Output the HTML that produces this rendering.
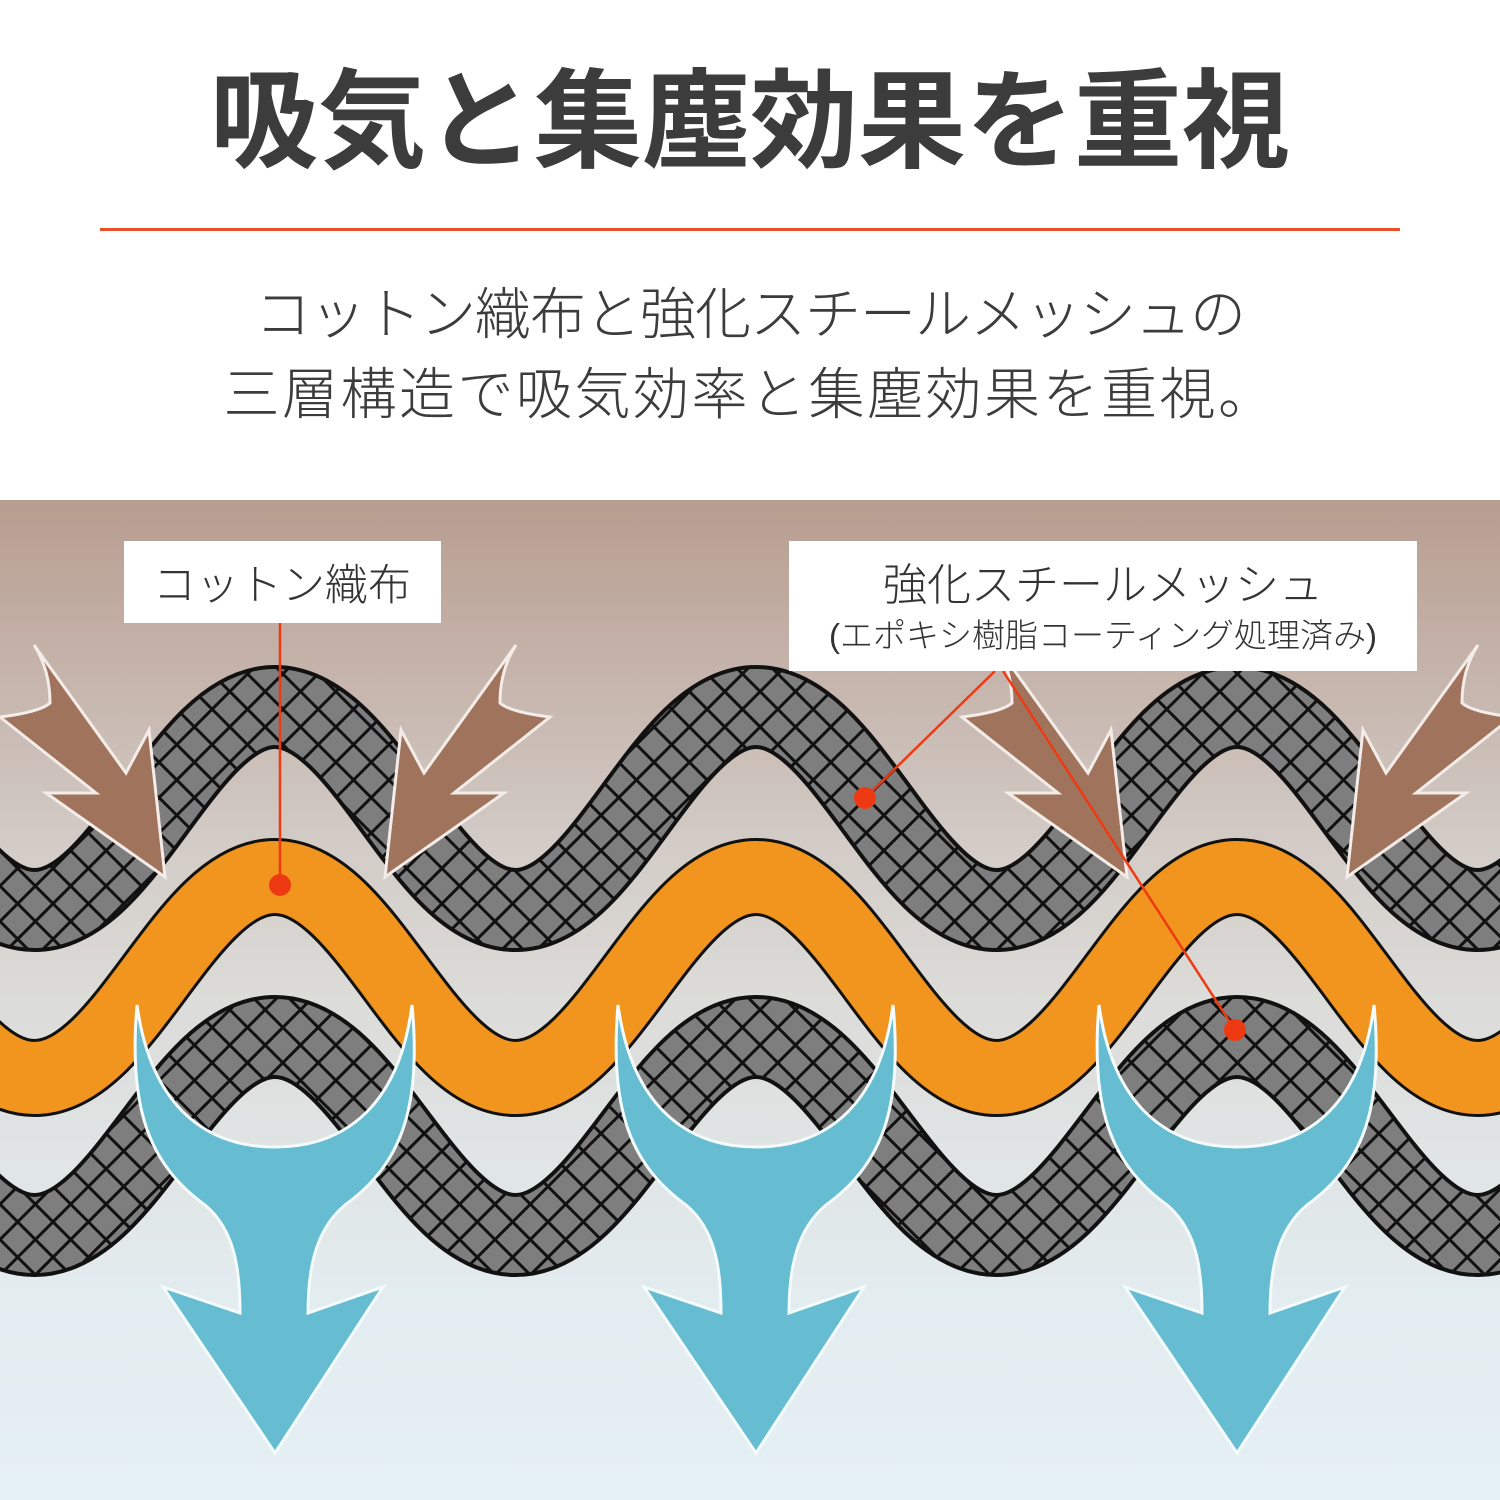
<!DOCTYPE html>
<html><head><meta charset="utf-8">
<style>
html,body{margin:0;padding:0;background:#fff}
body{width:1500px;height:1500px;position:relative;overflow:hidden;font-family:"Liberation Sans","Noto Sans CJK JP",sans-serif}
.title{position:absolute;left:0;width:1500px;top:52px;text-align:center;font-size:108px;font-weight:700;color:#3c3c3c;line-height:140px;letter-spacing:0px}
.rule{position:absolute;left:100px;top:228px;width:1300px;height:3px;background:#e8502a}
.sub{position:absolute;left:0;width:1500px;text-align:center;font-size:56px;font-weight:300;color:#3c3c3c;line-height:80px}
</style></head><body>
<div class="title">吸気と集塵効果を重視</div>
<div class="rule"></div>
<div class="sub" style="top:275px;letter-spacing:-1px">コットン織布と強化スチールメッシュの</div>
<div class="sub" style="top:355px;letter-spacing:2.5px">三層構造で吸気効率と集塵効果を重視。</div>
<svg id="d" style="position:absolute;left:0;top:500px" width="1500" height="1000" viewBox="0 500 1500 1000" xmlns="http://www.w3.org/2000/svg">
<defs>
<linearGradient id="bg" x1="0" y1="500" x2="0" y2="1500" gradientUnits="userSpaceOnUse">
<stop offset="0" stop-color="#b89d90"/>
<stop offset="0.35" stop-color="#d3ccc7"/>
<stop offset="0.5" stop-color="#dcdcd9"/>
<stop offset="0.8" stop-color="#e3ecef"/>
<stop offset="1" stop-color="#e5f0f5"/>
</linearGradient>
<pattern id="mesh" width="25" height="25" patternUnits="userSpaceOnUse" patternTransform="rotate(45)">
<rect width="25" height="25" fill="#7e7e7e"/>
<rect x="0" y="0" width="25" height="3" fill="#111"/>
<rect x="0" y="0" width="3" height="25" fill="#111"/>
</pattern>
</defs>
<rect x="0" y="500" width="1500" height="1000" fill="url(#bg)"/>
<g id="waves"></g>
<g fill="#a0735d" stroke="#f4ece8" stroke-width="3" stroke-linejoin="miter">
<path id="ba" d="M34,645 L126,773 L149,730 L165,877 L46,793 L96,793 L0,717 Q40,712 50,703 Q50,670 34,645 Z"/>
<use href="#ba" transform="translate(550,0) scale(-1,1)"/>
<use href="#ba" transform="translate(962,0)"/>
<use href="#ba" transform="translate(1512,0) scale(-1,1)"/>
</g>
<g fill="#66bcd0" stroke="#f4fbfd" stroke-width="3">
<path id="bl" d="M137,1005 C128,1110 150,1165 205,1205 C235,1230 240,1270 240,1313 L163,1287 L275,1453 L383,1287 L308,1313 C308,1270 315,1230 345,1205 C400,1165 422,1110 412,1005 C400,1100 350,1147 275,1147 C200,1147 150,1100 137,1005 Z"/>
<use href="#bl" transform="translate(481,0)"/>
<use href="#bl" transform="translate(962,0)"/>
</g>
<g stroke="#ee3a12" stroke-width="2.5" fill="none">
<line x1="280" y1="623" x2="280" y2="885"/>
<line x1="995" y1="671" x2="865" y2="798"/>
<line x1="1003" y1="671" x2="1235" y2="1030"/>
</g>
<g fill="#ee3a12">
<circle cx="280" cy="885" r="11"/>
<circle cx="865" cy="798" r="11"/>
<circle cx="1235" cy="1030" r="11"/>
</g>
<rect x="124" y="541" width="317" height="82" fill="#fff"/>
<text x="282" y="600" text-anchor="middle" font-size="43" fill="#333" font-family="Liberation Sans, Noto Sans CJK JP, sans-serif" font-weight="300">コットン織布</text>
<rect x="789" y="541" width="628" height="130" fill="#fff"/>
<text x="1103" y="600" text-anchor="middle" font-size="44" fill="#333" font-family="Liberation Sans, Noto Sans CJK JP, sans-serif" font-weight="300">強化スチールメッシュ</text>
<text x="1103" y="647" text-anchor="middle" font-size="33" fill="#333" font-family="Liberation Sans, Noto Sans CJK JP, sans-serif" font-weight="300">(エポキシ樹脂コーティング処理済み)</text>
</svg>
<script>
(function(){
var ns="http://www.w3.org/2000/svg";
function wp(yc,yt){var h=240.5,x=-206,d="M"+x+","+yc;
 for(var k=0;k<9;k++){var y0=(k%2==0)?yc:yt,y1=(k%2==0)?yt:yc;
  d+=" C"+(x+h*0.38)+","+y0+" "+(x+h*0.62)+","+y1+" "+(x+h)+","+y1;x+=h;}
 return d;}
var g=document.getElementById("waves");
function add(d,stroke,w){var p=document.createElementNS(ns,"path");p.setAttribute("d",d);p.setAttribute("fill","none");p.setAttribute("stroke",stroke);p.setAttribute("stroke-width",w);g.appendChild(p);}
var top=wp(707,910),mid=wp(877,1078),bot=wp(1037,1235);
add(top,"#111",84);add(top,"url(#mesh)",76);
add(mid,"#111",78);add(mid,"#f1951e",72);
add(bot,"#111",84);add(bot,"url(#mesh)",76);
})();
</script>
</body></html>
